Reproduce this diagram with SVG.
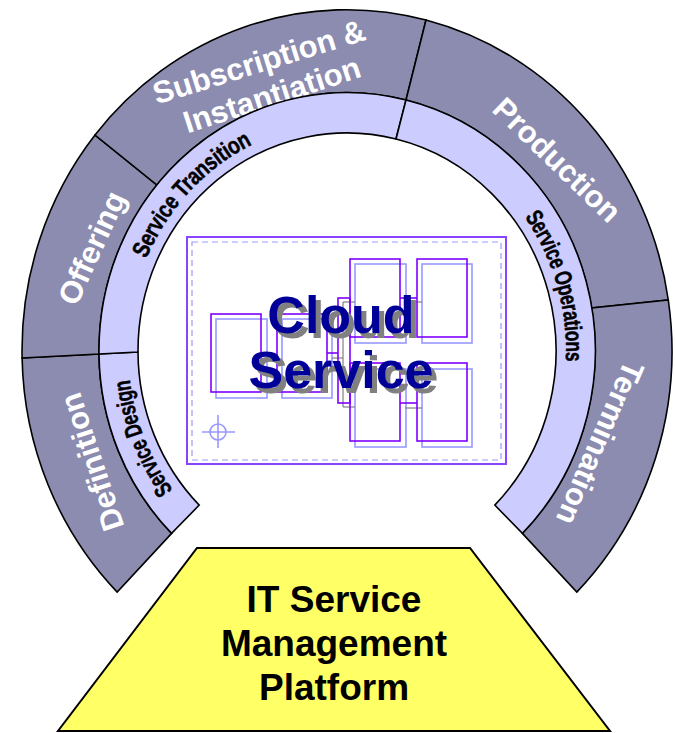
<svg xmlns="http://www.w3.org/2000/svg" width="675" height="733" viewBox="0 0 675 733">
<style>
.dark{fill:#8C8CB0;stroke:#000;stroke-width:1.6}
.light{fill:#CCCCFF;stroke:#000;stroke-width:1.6}
.lbl{font-family:"Liberation Sans",Arial,sans-serif;font-size:31px;font-weight:bold;fill:#fff;text-anchor:middle;dominant-baseline:central}
.slbl{font-family:"Liberation Sans",Arial,sans-serif;font-size:24px;font-weight:bold;fill:#000;stroke:#000;stroke-width:0.5;text-anchor:middle;dominant-baseline:central}
.pb{fill:none;stroke:#7F00FF;stroke-width:1.6}
.lb{fill:none;stroke:#9999FF;stroke-width:1.6}
.gl{fill:none;stroke:#808080;stroke-width:1.2}
.cs{font-family:"Liberation Sans",Arial,sans-serif;font-size:52px;font-weight:bold;text-anchor:middle}
.it{font-family:"Liberation Sans",Arial,sans-serif;font-size:37px;font-weight:bold;fill:#000;text-anchor:middle}
</style>
<defs>
<path id="pDesign" d="M233,557.1 A228,238 0 0 1 126.8,289.4"/>
<path id="pTransition" d="M149.5,470 A228,238 0 0 1 461,144.9"/>
<path id="pOperations" d="M398.3,119.1 A228,238 0 0 1 513.8,513.3"/>
</defs>
<rect width="675" height="733" fill="#fff"/>
<g id="outer-ring">
<g id="definition"><path class="dark" d="M117.2,592.1 A325,341 0 0 1 22.1,358 L99,354 A248,258 0 0 0 171.6,533.4 Z"/></g>
<g id="offering"><path class="dark" d="M22.1,358 A325,341 0 0 1 95,135 L157,185 A248,258 0 0 0 99,354 Z"/></g>
<g id="subscription"><path class="dark" d="M95,135 A325,341 0 0 1 426,20 L406,100 A248,258 0 0 0 157,185 Z"/></g>
<g id="production"><path class="dark" d="M426,20 A325,341 0 0 1 668.3,300 L591.5,308 A248,258 0 0 0 406,100 Z"/></g>
<g id="termination"><path class="dark" d="M668.3,300 A325,341 0 0 1 576.8,592.1 L522.4,533.4 A248,258 0 0 0 591.5,308 Z"/></g>
</g>
<g id="outer-labels">
<text class="lbl" transform="translate(92,462) rotate(-108.4)">Definition</text>
<text class="lbl" transform="translate(92,248) rotate(-65.4)">Offering</text>
<text class="lbl" transform="translate(259,62) rotate(-17.2)">Subscription &amp;</text>
<text class="lbl" transform="translate(272,95) rotate(-18)">Instantiation</text>
<text class="lbl" transform="translate(557,160) rotate(44)">Production</text>
<text class="lbl" transform="translate(600,443) rotate(113.5)">Termination</text>
</g>
<g id="inner-ring">
<g id="service-design"><path class="light" d="M171.6,533.4 A248,258 0 0 1 99,354 L138,352 A209,218 0 0 0 199.2,505.1 Z"/>
<text class="slbl"><textPath href="#pDesign" startOffset="50%" textLength="124" lengthAdjust="spacingAndGlyphs">Service Design</textPath></text></g>
<g id="service-transition"><path class="light" d="M99,354 A248,258 0 0 1 406,100 L396,139 A209,218 0 0 0 138,352 Z"/>
<text class="slbl"><textPath href="#pTransition" startOffset="50%" textLength="165" lengthAdjust="spacingAndGlyphs">Service Transition</textPath></text></g>
<g id="service-operations"><path class="light" d="M406,100 A248,258 0 0 1 522.4,533.4 L494.8,505.1 A209,218 0 0 0 396,139 Z"/>
<text class="slbl"><textPath href="#pOperations" startOffset="50%" textLength="158" lengthAdjust="spacingAndGlyphs">Service Operations</textPath></text></g>
</g>
<g id="cloud-service">
<rect x="187" y="237" width="319" height="227" fill="none" stroke="#8844FF" stroke-width="2"/>
<rect x="192" y="242" width="309" height="218" fill="none" stroke="#9999FF" stroke-width="1.2" stroke-dasharray="6,4"/>
<g class="lb">
<circle cx="218" cy="432" r="8"/>
<line x1="202" y1="432" x2="235" y2="432"/><line x1="218" y1="415" x2="218" y2="448"/>
<rect x="216" y="319" width="51" height="79"/>
<rect x="282" y="319" width="50" height="79"/>
<rect x="355" y="264" width="51" height="79"/>
<rect x="422" y="264" width="50" height="79"/>
<rect x="355" y="369" width="51" height="78"/>
<rect x="422" y="369" width="50" height="78"/>
</g>
<g class="gl">
<line x1="343" y1="302" x2="343" y2="407"/>
<line x1="343" y1="302" x2="355" y2="302"/>
<line x1="332" y1="358" x2="343" y2="358"/>
<line x1="343" y1="407" x2="355" y2="407"/>
<line x1="405" y1="302" x2="422" y2="302"/>
<line x1="405" y1="408" x2="422" y2="408"/>
</g>
<g class="pb">
<rect x="211" y="314" width="50" height="78"/>
<rect x="277" y="314" width="50" height="78"/>
<rect x="350" y="259" width="50" height="78"/>
<rect x="417" y="259" width="50" height="78"/>
<rect x="350" y="363" width="50" height="78"/>
<rect x="417" y="363" width="50" height="78"/>
<rect x="338" y="298" width="12" height="105"/>
<line x1="327" y1="353" x2="338" y2="353"/>
<line x1="400" y1="298" x2="417" y2="298"/>
<line x1="400" y1="403" x2="417" y2="403"/>
</g>
<text class="cs" fill="#808080" x="346" y="338">Cloud</text>
<text class="cs" fill="#808080" x="346" y="393">Service</text>
<text class="cs" fill="#000099" x="341" y="333">Cloud</text>
<text class="cs" fill="#000099" x="341" y="388">Service</text>
</g>
<g id="itsm-platform">
<path d="M197,548 L470,548 L610,731 L58,731 Z" fill="#FFFF66" stroke="#000" stroke-width="2"/>
<text class="it" x="334" y="612">IT Service</text>
<text class="it" x="334" y="656">Management</text>
<text class="it" x="334" y="700">Platform</text>
</g>
</svg>
